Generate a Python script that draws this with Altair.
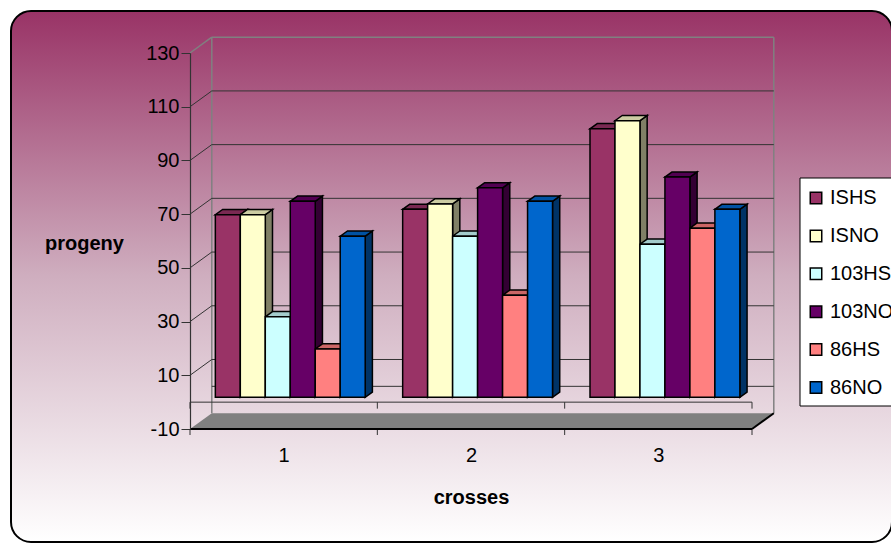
import altair as alt
import pandas as pd

# ---- data -------------------------------------------------------------
categories = [1, 2, 3]
series = ["ISHS", "ISNO", "103HS", "103NO", "86HS", "86NO"]
ishs = [68, 70, 100]
isno = [68, 72, 103]
hs103 = [30, 60, 57]
no103 = [73, 78, 82]
hs86 = [18, 38, 63]
no86 = [60, 73, 70]
y_ticks = [-10, 10, 30, 50, 70, 90, 110, 130]

values = [ishs, isno, hs103, no103, hs86, no86]
palette = ["#993366", "#FFFFCC", "#CCFFFF", "#660066", "#FF8080", "#0066CC"]

# ---- geometry of the pseudo-3D box -------------------------------------
W, H = 562, 376
Y_MIN, Y_MAX = -10, 130
X_MIN, X_MAX = categories[0] - 0.5, categories[-1] + 0.5
ux = W / (X_MAX - X_MIN)
uy = H / (Y_MAX - Y_MIN)


def depth(px_x, px_y):
    """Screen shift (pixels) for a given depth, expressed in data units."""
    return px_x / ux, px_y / uy


wall_dx, wall_dy = depth(21.8, 15.8)
bar_dx0, bar_dy0 = depth(6.6, 4.8)
bar_dx1, bar_dy1 = depth(13.8, 10.0)
GROUP = 0.8
bw = GROUP / len(series)
FONT = "Liberation Sans"


def shade(hexc, f):
    r, g, b = (int(hexc[i:i + 2], 16) for i in (1, 3, 5))
    return "#%02x%02x%02x" % (round(r * f), round(g * f), round(b * f))


fronts, sides, tops = [], [], []
for si, (name, vals) in enumerate(zip(series, values)):
    for c, v in zip(categories, vals):
        x0 = c - GROUP / 2 + si * bw + bar_dx0
        x1 = x0 + bw
        key = f"{name}-{c}"
        fronts.append({"series": name, "x": x0, "x2": x1, "y": bar_dy0, "y2": v + bar_dy0, "value": v})
        side_col = shade(palette[si], 0.5)
        top_col = shade(palette[si], 0.8)
        sides.append({"id": key, "x": x1, "y": v + bar_dy0, "y2": bar_dy0, "fill": side_col})
        sides.append({"id": key, "x": x1 + bar_dx1 - bar_dx0, "y": v + bar_dy1, "y2": bar_dy1, "fill": side_col})
        tops.append({"id": key, "y": v + bar_dy0, "x": x0, "x2": x1, "fill": top_col})
        tops.append({"id": key, "y": v + bar_dy1, "x": x0 + bar_dx1 - bar_dx0,
                     "x2": x1 + bar_dx1 - bar_dx0, "fill": top_col})

fronts = pd.DataFrame(fronts)
sides = pd.DataFrame(sides)
tops = pd.DataFrame(tops)

# walls: back-wall grid, left-wall diagonals, gray outline
grid_back = [0] + y_ticks[1:-1]
dark_lines = []
for t in grid_back:
    dark_lines.append({"x": X_MIN + wall_dx, "x2": X_MAX + wall_dx, "y": t + wall_dy, "y2": t + wall_dy})
for t in y_ticks[1:-1]:
    dark_lines.append({"x": X_MIN, "x2": X_MIN + wall_dx, "y": t, "y2": t + wall_dy})
dark_lines.append({"x": X_MIN, "x2": X_MAX, "y": 0, "y2": 0})
bounds = [c - 0.5 for c in categories] + [categories[-1] + 0.5]
for b in bounds:
    dark_lines.append({"x": b, "x2": b, "y": 0, "y2": -6.5 / uy})
    dark_lines.append({"x": b, "x2": b, "y": Y_MIN, "y2": Y_MIN - 6.0 / uy})
dark_lines = pd.DataFrame(dark_lines)

top_b = Y_MAX + wall_dy
bot_b = Y_MIN + wall_dy
gray_lines = pd.DataFrame([
    {"x": X_MIN + wall_dx, "x2": X_MAX + wall_dx, "y": top_b, "y2": top_b},
    {"x": X_MIN + wall_dx, "x2": X_MIN + wall_dx, "y": bot_b, "y2": top_b},
    {"x": X_MAX + wall_dx, "x2": X_MAX + wall_dx, "y": bot_b, "y2": top_b},
    {"x": X_MIN, "x2": X_MIN + wall_dx, "y": Y_MAX, "y2": top_b},
])

floor = pd.DataFrame([
    {"y": Y_MIN, "x": X_MIN, "x2": X_MAX},
    {"y": Y_MIN + wall_dy, "x": X_MIN + wall_dx, "x2": X_MAX + wall_dx},
])
floor_edges = pd.DataFrame([
    {"x": X_MIN, "x2": X_MAX, "y": Y_MIN, "y2": Y_MIN},
    {"x": X_MAX, "x2": X_MAX + wall_dx, "y": Y_MIN, "y2": Y_MIN + wall_dy},
])

# ---- scales / axes ----------------------------------------------------
xs = alt.Scale(domain=[X_MIN, X_MAX], nice=False, zero=False)
ys = alt.Scale(domain=[Y_MIN, Y_MAX], nice=False, zero=False)
x_axis = alt.Axis(values=categories, labelExpr="'' + datum.value", ticks=False, tickSize=0,
                  domain=False, grid=False, labelPadding=26, labelBaseline="middle",
                  labelFontSize=20, labelFont=FONT, labelColor="black", labelFlush=False,
                  titleFont=FONT, titleFontSize=20, titleFontWeight="bold", titleColor="black",
                  titleY=68, titleBaseline="middle", zindex=3)
y_axis = alt.Axis(values=y_ticks, labelExpr="'' + datum.value", grid=False,
                  domainColor="#333333", domainWidth=1.2,
                  tickColor="#333333", tickSize=9, labelPadding=2, labelFontSize=20,
                  labelFont=FONT, labelColor="black",
                  titleFont=FONT, titleFontSize=20, titleFontWeight="bold", titleColor="black",
                  titleAngle=0, titleX=-106, titleY=190, titleAlign="center",
                  titleBaseline="middle", zindex=3)


def X(f="x"):
    return alt.X(f"{f}:Q", scale=xs, axis=x_axis, title="crosses", stack=None)


def Y(f="y"):
    return alt.Y(f"{f}:Q", scale=ys, axis=y_axis, title="progeny", stack=None)


one = pd.DataFrame({"k": [0]})

frame = alt.Chart(one).mark_rect(
    cornerRadius=20, stroke="black", strokeWidth=2,
    fill=alt.LinearGradient(
        gradient="linear", x1=0, x2=0, y1=0, y2=1,
        stops=[alt.GradientStop(color="#993366", offset=0),
               alt.GradientStop(color="#cfaebf", offset=0.5),
               alt.GradientStop(color="#ffffff", offset=1)])
).encode(x=alt.value(-179), x2=alt.value(702), y=alt.value(-42), y2=alt.value(489))

legend_box = alt.Chart(one).mark_rect(fill="white", stroke="black", strokeWidth=1).encode(
    x=alt.value(610), x2=alt.value(720), y=alt.value(125), y2=alt.value(353))

floor_layer = alt.Chart(floor).mark_area(orient="horizontal", fill="#808080", clip=False).encode(
    y=Y("y"), x=X("x"), x2="x2")

gray_layer = alt.Chart(gray_lines).mark_rule(color="#808080", strokeWidth=1.5, clip=False).encode(
    x=X("x"), x2="x2", y=Y("y"), y2="y2")

dark_layer = alt.Chart(dark_lines).mark_rule(color="#333333", strokeWidth=1, clip=False).encode(
    x=X("x"), x2="x2", y=Y("y"), y2="y2")

edge_layer = alt.Chart(floor_edges).mark_rule(color="black", strokeWidth=2, clip=False).encode(
    x=X("x"), x2="x2", y=Y("y"), y2="y2")

side_layer = alt.Chart(sides).mark_area(
    orient="vertical", stroke="black", strokeWidth=1.5, strokeJoin="miter", clip=False
).encode(x=X("x"), y=Y("y"), y2="y2", detail="id:N",
         fill=alt.Fill("fill:N", scale=None))

top_layer = alt.Chart(tops).mark_area(
    orient="horizontal", stroke="black", strokeWidth=1.5, strokeJoin="miter", clip=False
).encode(y=Y("y"), x=X("x"), x2="x2", detail="id:N",
         fill=alt.Fill("fill:N", scale=None))

front_layer = alt.Chart(fronts).mark_rect(stroke="black", strokeWidth=1.5, clip=False).encode(
    x=X("x"), x2="x2", y=Y("y"), y2="y2",
    color=alt.Color("series:N", scale=alt.Scale(domain=series, range=palette),
                    legend=alt.Legend(title=None, orient="none", legendX=616, legendY=135,
                                      padding=0, symbolType="square", symbolSize=132,
                                      symbolStrokeColor="black", symbolStrokeWidth=1.5,
                                      labelFont=FONT, labelFontSize=20, labelColor="black",
                                      labelOffset=4, rowPadding=17.9, labelLimit=300)),
    tooltip=["series:N", "value:Q"])

chart = alt.layer(
    frame, legend_box, floor_layer, gray_layer, dark_layer, edge_layer,
    side_layer, top_layer, front_layer
).properties(
    width=W, height=H,
    autosize=alt.AutoSizeParams(type="none"),
    padding={"left": 190, "top": 53, "right": 139, "bottom": 115},
    background="white",
).configure_view(stroke=None)

chart.save("out.html", embed_options={"renderer": "svg", "actions": False})
